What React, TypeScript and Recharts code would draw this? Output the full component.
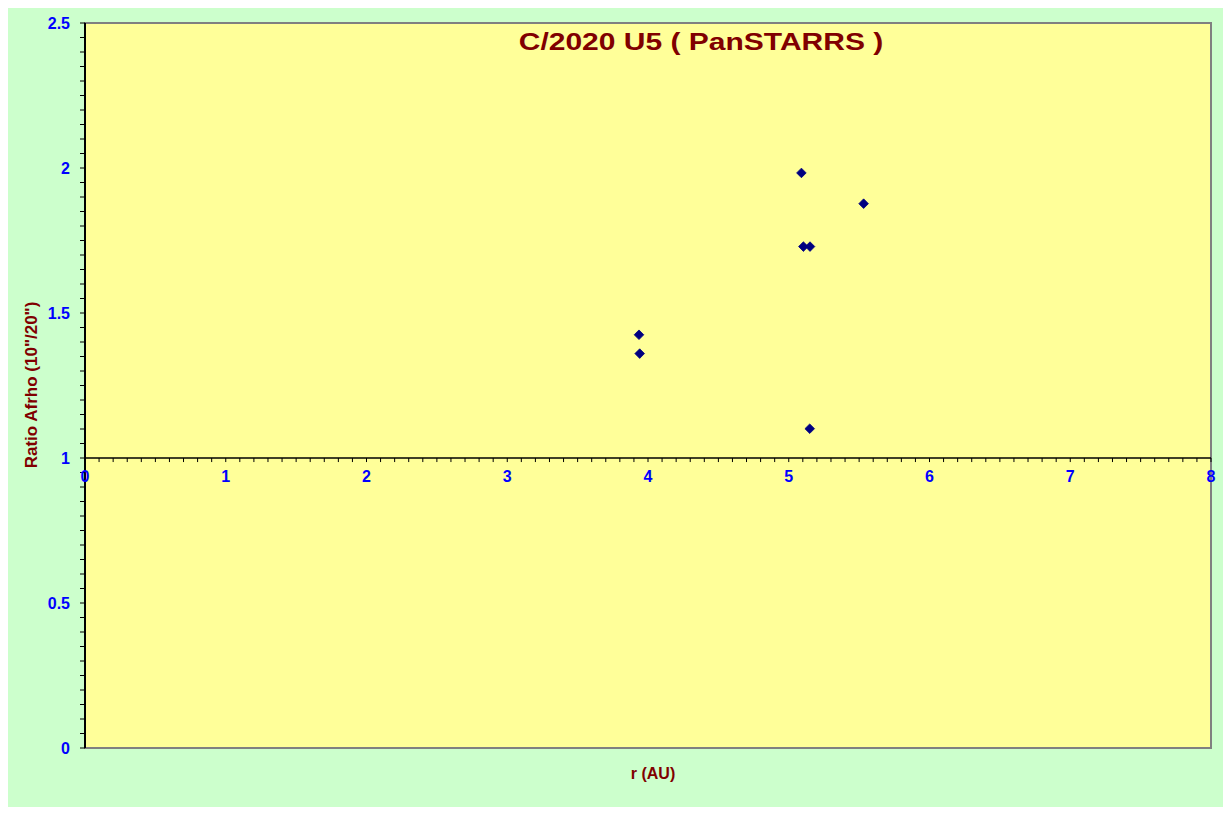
import React from 'react';
import {
  ScatterChart, Scatter, XAxis, YAxis, ReferenceArea, ReferenceLine, ReferenceDot,
} from 'recharts';

// heliocentric distance r (AU) and Afrho ratio 10"/20"
const rValues = [3.936, 3.941, 5.09, 5.104, 5.151, 5.149, 5.532];
const ratioValues = [1.425, 1.36, 1.983, 1.729, 1.729, 1.101, 1.877];

const xTicks = [0, 1, 2, 3, 4, 5, 6, 7, 8];
const yMajorTicks = [0, 0.5, 1, 1.5, 2, 2.5];

const title = 'C/2020 U5 ( PanSTARRS )';
const xTitle = 'r (AU)';
const yTitle = 'Ratio Afrho (10"/20")';

const data = rValues.map((r, i) => ({ r, ratio: ratioValues[i] }));

// minor ticks: 0.05 on y, 0.1 on x
const yAllTicks = Array.from({ length: 51 }, (_, i) => Math.round(i * 5) / 100);
const xMinorTicks = Array.from({ length: 81 }, (_, i) => Math.round(i * 10) / 100);

const FONT = 'Arial, "Liberation Sans", sans-serif';
const BLUE = '#0000FF';
const DARK_RED = '#800000';

const Diamond = (props: any) => {
  const { cx, cy } = props;
  if (cx == null || cy == null) return null;
  const s = 4.8;
  return (
    <path
      d={`M${cx},${cy - s} L${cx + s},${cy} L${cx},${cy + s} L${cx - s},${cy} Z`}
      fill="#000080"
      stroke="#000080"
      strokeWidth={0.8}
      strokeLinejoin="round"
    />
  );
};

const App: React.FC = () => {
  return (
    <div style={{ position: 'relative', width: 1218, height: 799, background: '#CCFFCC', fontFamily: FONT }}>
      <ScatterChart width={1218} height={799} margin={{ top: 15, right: 15, left: 0, bottom: 0 }}>
        <ReferenceArea x1={0} x2={8} y1={0} y2={2.5} fill="#FFFF99" fillOpacity={1} stroke="#808080" strokeWidth={2} />
        <XAxis
          type="number"
          dataKey="r"
          domain={[0, 8]}
          ticks={xTicks}
          tick={false}
          tickLine={false}
          axisLine={false}
          height={59}
        />
        <YAxis
          type="number"
          dataKey="ratio"
          domain={[0, 2.5]}
          ticks={yAllTicks}
          interval={0}
          width={77}
          tickSize={5}
          tickMargin={10}
          axisLine={{ stroke: '#000000', strokeWidth: 2 }}
          tickLine={{ stroke: '#000000', strokeWidth: 1 }}
          tickFormatter={(v: number) => (yMajorTicks.includes(v) ? String(v) : '')}
          tick={{ fill: BLUE, fontSize: 16, fontWeight: 'bold', fontFamily: FONT }}
        />
        <ReferenceLine y={1} stroke="#000000" strokeWidth={1.5} />
        {xMinorTicks.map((x) => (
          <ReferenceLine
            key={'xt' + x}
            segment={[{ x, y: 1 }, { x, y: 0.986 }]}
            stroke="#000000"
            strokeWidth={1}
          />
        ))}
        {xTicks.map((x) => (
          <ReferenceDot
            key={'xl' + x}
            x={x}
            y={1}
            r={0}
            stroke="none"
            fill="none"
            label={{
              value: String(x),
              position: 'bottom',
              offset: 13,
              fill: BLUE,
              fontSize: 16,
              fontWeight: 'bold',
              fontFamily: FONT,
            }}
          />
        ))}
        <Scatter data={data} shape={<Diamond />} isAnimationActive={false} />
      </ScatterChart>
      <div
        style={{
          position: 'absolute', left: 393, top: 20, width: 600, textAlign: 'center',
          color: DARK_RED, fontSize: 24, fontWeight: 'bold', whiteSpace: 'pre',
          transform: 'scaleX(1.25)',
        }}
      >
        {title}
      </div>
      <div
        style={{
          position: 'absolute', left: 0, top: 757, width: 1290, textAlign: 'center',
          color: DARK_RED, fontSize: 16, fontWeight: 'bold',
        }}
      >
        {xTitle}
      </div>
      <div
        style={{
          position: 'absolute', left: 24, top: 377, width: 0, height: 0,
        }}
      >
        <div
          style={{
            position: 'absolute', left: -150, top: -10, width: 300, textAlign: 'center',
            transform: 'rotate(-90deg)', color: DARK_RED, fontSize: 17, fontWeight: 'bold',
            whiteSpace: 'pre',
          }}
        >
          {yTitle}
        </div>
      </div>
    </div>
  );
};

export default App;
